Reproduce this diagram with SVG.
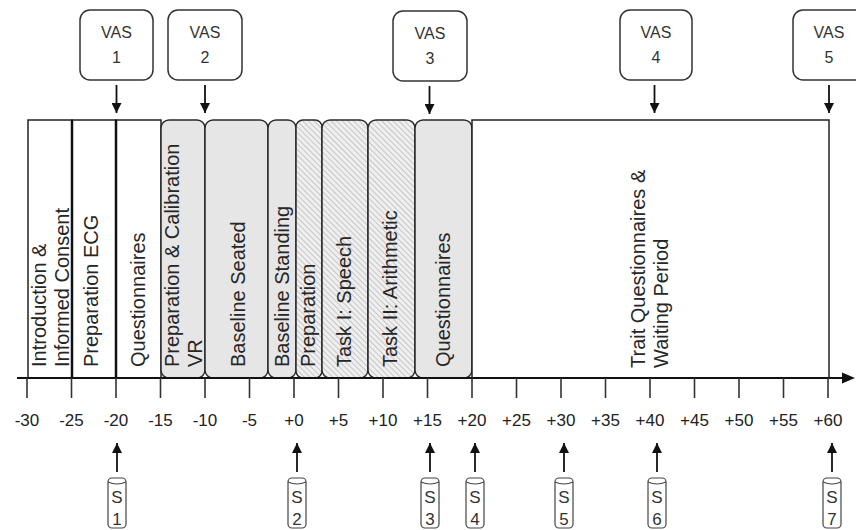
<svg xmlns="http://www.w3.org/2000/svg" width="856" height="530" viewBox="0 0 856 530">
<style>
  .wb{fill:#fff;stroke:#222;stroke-width:1.5}
  .gb{fill:#e6e6e6;stroke:#2a2a2a;stroke-width:1.5}
  .hb{fill:url(#hatch);stroke:#2a2a2a;stroke-width:1.5}
  .div{stroke:#111;stroke-width:2.5}
  .bt{font-family:"Liberation Sans",Arial,sans-serif;font-size:20px;fill:#262626}
  .vas{fill:#fff;stroke:#333;stroke-width:1.5}
  .vt{font-family:"Liberation Sans",Arial,sans-serif;font-size:16px;fill:#333;text-anchor:middle}
  .st{font-family:"Liberation Sans",Arial,sans-serif;font-size:17px;fill:#333;text-anchor:middle}
  .tl{font-family:"Liberation Sans",Arial,sans-serif;font-size:17px;fill:#222;text-anchor:middle}
  .sbox{fill:#fff;stroke:#444;stroke-width:1.2}
  .con{stroke:#111;stroke-width:1.8;fill:none}
  .tick{stroke:#333;stroke-width:1.6}
</style>
<defs>
  <pattern id="hatch" patternUnits="userSpaceOnUse" width="4" height="4" patternTransform="rotate(-45)">
    <rect width="4" height="4" fill="#efefef"/>
    <line x1="0" y1="0" x2="0" y2="4" stroke="#b5b5b5" stroke-width="1.4"/>
  </pattern>
  <marker id="ah" viewBox="0 0 10 10" refX="10" refY="5" markerWidth="10" markerHeight="10" markerUnits="userSpaceOnUse" orient="auto">
    <path d="M0,0 L10,5 L0,10 Z" fill="#111"/>
  </marker>
</defs>

<!-- Phase blocks -->
<g id="block-intro">
  <rect class="wb" x="28" y="120" width="44" height="258"/>
  <text class="bt" transform="translate(46,367) rotate(-90)">Introduction &amp;</text>
  <text class="bt" transform="translate(69,367) rotate(-90)">Informed Consent</text>
</g>
<g id="block-prep-ecg">
  <rect class="wb" x="72" y="120" width="44" height="258"/>
  <text class="bt" transform="translate(98,367) rotate(-90)">Preparation ECG</text>
</g>
<g id="block-quest1">
  <rect class="wb" x="116" y="120" width="45" height="258"/>
  <text class="bt" transform="translate(145,367) rotate(-90)">Questionnaires</text>
</g>
<g id="block-prep-vr">
  <rect class="gb" x="161" y="120" width="44" height="258" rx="8"/>
  <text class="bt" transform="translate(179,367) rotate(-90)">Preparation &amp; Calibration</text>
  <text class="bt" transform="translate(202,367) rotate(-90)">VR</text>
</g>
<g id="block-baseline-seated">
  <rect class="gb" x="205" y="120" width="63" height="258" rx="8"/>
  <text class="bt" transform="translate(245,367) rotate(-90)">Baseline Seated</text>
</g>
<g id="block-baseline-standing">
  <rect class="gb" x="268" y="120" width="28" height="258" rx="8"/>
  <text class="bt" transform="translate(289,367) rotate(-90)">Baseline Standing</text>
</g>
<g id="block-preparation">
  <rect class="hb" x="296" y="120" width="26" height="258" rx="7"/>
  <text class="bt" transform="translate(315,367) rotate(-90)">Preparation</text>
</g>
<g id="block-task1">
  <rect class="hb" x="322" y="120" width="46" height="258" rx="8"/>
  <text class="bt" transform="translate(351,367) rotate(-90)">Task I: Speech</text>
</g>
<g id="block-task2">
  <rect class="hb" x="368" y="120" width="47" height="258" rx="8"/>
  <text class="bt" transform="translate(397,367) rotate(-90)">Task II: Arithmetic</text>
</g>
<g id="block-quest2">
  <rect class="gb" x="415" y="120" width="57" height="258" rx="8"/>
  <text class="bt" transform="translate(450,367) rotate(-90)">Questionnaires</text>
</g>
<g id="block-trait">
  <rect class="wb" x="472" y="120" width="357" height="258"/>
  <text class="bt" transform="translate(645,368) rotate(-90)">Trait Questionnaires &amp;</text>
  <text class="bt" transform="translate(668,368) rotate(-90)">Waiting Period</text>
</g>
<g id="dividers">
  <line class="div" x1="72" y1="120" x2="72" y2="378"/>
  <line class="div" x1="116" y1="120" x2="116" y2="378"/>
</g>

<!-- Time axis -->
<g id="axis">
  <line x1="17" y1="378" x2="845" y2="378" stroke="#111" stroke-width="2.2"/>
  <path d="M842,372.5 L855,378 L842,383.5 Z" fill="#111"/>
  <g id="ticks">
    <line class="tick" x1="27" y1="378" x2="27" y2="398"/>
    <line class="tick" x1="71.5" y1="378" x2="71.5" y2="398"/>
    <line class="tick" x1="116" y1="378" x2="116" y2="398"/>
    <line class="tick" x1="160.5" y1="378" x2="160.5" y2="398"/>
    <line class="tick" x1="205" y1="378" x2="205" y2="398"/>
    <line class="tick" x1="249.5" y1="378" x2="249.5" y2="398"/>
    <line class="tick" x1="294" y1="378" x2="294" y2="398"/>
    <line class="tick" x1="338.5" y1="378" x2="338.5" y2="398"/>
    <line class="tick" x1="383" y1="378" x2="383" y2="398"/>
    <line class="tick" x1="427.5" y1="378" x2="427.5" y2="398"/>
    <line class="tick" x1="472" y1="378" x2="472" y2="398"/>
    <line class="tick" x1="516.5" y1="378" x2="516.5" y2="398"/>
    <line class="tick" x1="561" y1="378" x2="561" y2="398"/>
    <line class="tick" x1="605.5" y1="378" x2="605.5" y2="398"/>
    <line class="tick" x1="650" y1="378" x2="650" y2="398"/>
    <line class="tick" x1="694.5" y1="378" x2="694.5" y2="398"/>
    <line class="tick" x1="739" y1="378" x2="739" y2="398"/>
    <line class="tick" x1="783.5" y1="378" x2="783.5" y2="398"/>
    <line class="tick" x1="828" y1="378" x2="828" y2="398"/>
  </g>
  <g id="tick-labels">
    <text class="tl" x="27" y="426">-30</text>
    <text class="tl" x="71.5" y="426">-25</text>
    <text class="tl" x="116" y="426">-20</text>
    <text class="tl" x="160.5" y="426">-15</text>
    <text class="tl" x="205" y="426">-10</text>
    <text class="tl" x="249.5" y="426">-5</text>
    <text class="tl" x="294" y="426">+0</text>
    <text class="tl" x="338.5" y="426">+5</text>
    <text class="tl" x="383" y="426">+10</text>
    <text class="tl" x="427.5" y="426">+15</text>
    <text class="tl" x="472" y="426">+20</text>
    <text class="tl" x="516.5" y="426">+25</text>
    <text class="tl" x="561" y="426">+30</text>
    <text class="tl" x="605.5" y="426">+35</text>
    <text class="tl" x="650" y="426">+40</text>
    <text class="tl" x="694.5" y="426">+45</text>
    <text class="tl" x="739" y="426">+50</text>
    <text class="tl" x="783.5" y="426">+55</text>
    <text class="tl" x="828" y="426">+60</text>
  </g>
</g>

<!-- VAS nodes -->
<g id="vas1"><rect class="vas" x="80" y="10" width="73" height="70" rx="10"/><text class="vt" x="116.5" y="38">VAS</text><text class="vt" x="116.5" y="63">1</text></g>
<g id="vas2"><rect class="vas" x="168" y="10" width="74" height="70" rx="10"/><text class="vt" x="205" y="38">VAS</text><text class="vt" x="205" y="63">2</text></g>
<g id="vas3"><rect class="vas" x="393" y="11" width="74" height="70" rx="10"/><text class="vt" x="430" y="39">VAS</text><text class="vt" x="430" y="64">3</text></g>
<g id="vas4"><rect class="vas" x="620" y="10" width="72" height="70" rx="10"/><text class="vt" x="656" y="38">VAS</text><text class="vt" x="656" y="63">4</text></g>
<g id="vas5"><rect class="vas" x="793" y="10" width="73" height="70" rx="10"/><text class="vt" x="829" y="38">VAS</text><text class="vt" x="829" y="63">5</text></g>

<!-- S (sample) nodes -->
<g id="s1"><rect class="sbox" x="108" y="478" width="18" height="50" rx="4"/><path class="sbox" d="M108,482 Q117,486 126,482" fill="none"/><text class="st" x="117" y="503">S</text><text class="st" x="117" y="525">1</text></g>
<g id="s2"><rect class="sbox" x="288" y="478" width="18" height="50" rx="4"/><path class="sbox" d="M288,482 Q297,486 306,482" fill="none"/><text class="st" x="297" y="503">S</text><text class="st" x="297" y="525">2</text></g>
<g id="s3"><rect class="sbox" x="421" y="478" width="18" height="50" rx="4"/><path class="sbox" d="M421,482 Q430,486 439,482" fill="none"/><text class="st" x="430" y="503">S</text><text class="st" x="430" y="525">3</text></g>
<g id="s4"><rect class="sbox" x="466" y="478" width="18" height="50" rx="4"/><path class="sbox" d="M466,482 Q475,486 484,482" fill="none"/><text class="st" x="475" y="503">S</text><text class="st" x="475" y="525">4</text></g>
<g id="s5"><rect class="sbox" x="555" y="478" width="18" height="50" rx="4"/><path class="sbox" d="M555,482 Q564,486 573,482" fill="none"/><text class="st" x="564" y="503">S</text><text class="st" x="564" y="525">5</text></g>
<g id="s6"><rect class="sbox" x="648" y="478" width="18" height="50" rx="4"/><path class="sbox" d="M648,482 Q657,486 666,482" fill="none"/><text class="st" x="657" y="503">S</text><text class="st" x="657" y="525">6</text></g>
<g id="s7"><rect class="sbox" x="823" y="478" width="18" height="50" rx="4"/><path class="sbox" d="M823,482 Q832,486 841,482" fill="none"/><text class="st" x="832" y="503">S</text><text class="st" x="832" y="525">7</text></g>

<!-- Connectors -->
<g id="connectors">
  <line class="con" x1="116.5" y1="85" x2="116.5" y2="113" marker-end="url(#ah)"/>
  <line class="con" x1="205" y1="85" x2="205" y2="113" marker-end="url(#ah)"/>
  <line class="con" x1="429.5" y1="86" x2="429.5" y2="114" marker-end="url(#ah)"/>
  <line class="con" x1="654.5" y1="85" x2="654.5" y2="113" marker-end="url(#ah)"/>
  <line class="con" x1="829" y1="85" x2="829" y2="113" marker-end="url(#ah)"/>
  <line class="con" x1="117" y1="472" x2="117" y2="443" marker-end="url(#ah)"/>
  <line class="con" x1="297" y1="472" x2="297" y2="443" marker-end="url(#ah)"/>
  <line class="con" x1="430" y1="472" x2="430" y2="443" marker-end="url(#ah)"/>
  <line class="con" x1="475" y1="472" x2="475" y2="443" marker-end="url(#ah)"/>
  <line class="con" x1="564" y1="472" x2="564" y2="443" marker-end="url(#ah)"/>
  <line class="con" x1="657" y1="472" x2="657" y2="443" marker-end="url(#ah)"/>
  <line class="con" x1="832" y1="472" x2="832" y2="443" marker-end="url(#ah)"/>
</g>
</svg>
